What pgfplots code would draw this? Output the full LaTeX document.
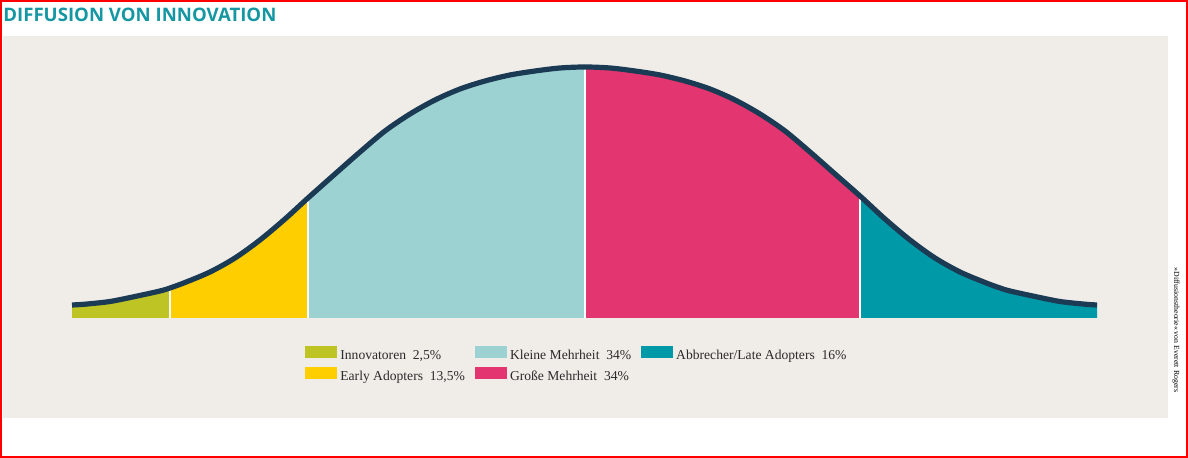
\documentclass[border=0pt]{standalone}
\usepackage{fontspec}
\setmainfont{Liberation Serif}
\newfontfamily\titlefont{Open Sans}
\usepackage{pgfplots}
\usepackage{pgfplotstable}
\pgfplotsset{compat=1.18}
\definecolor{cInno}{HTML}{BDC423}
\definecolor{cEarly}{HTML}{FFCE00}
\definecolor{cKlein}{HTML}{9CD2D2}
\definecolor{cGross}{HTML}{E3356F}
\definecolor{cLate}{HTML}{0099A8}
\definecolor{cCurve}{HTML}{1B3A54}
\definecolor{cPanel}{HTML}{F0EDE8}
\definecolor{cTitle}{HTML}{1496A3}
\definecolor{cText}{HTML}{2B2B2B}

% bell curve: x position, height above the baseline
\pgfplotstableread{
x h
72 13
85 13.8
110 16.5
135 21.5
160 27
170 30
185 35.5
210 46
235 60
260 78
285 99
308 120
335 144
360 166
385 187
410 204
435 218
460 229
485 237
510 243
535 247
560 250
585 251
610 250
635 247
660 243
685 237
710 229
735 218
760 204
785 187
810 166
835 144
860 122
885 99
910 78
935 60
960 46
985 35.5
1000 30
1010 27
1035 21.5
1060 16.5
1085 13.8
1097 13
}\curve

\begin{document}
\begin{tikzpicture}
\begin{scope}[x=0.5pt,y=-0.5pt,shift={(-36pt,159pt)}]
  \useasboundingbox (0,0) rectangle (1188,458);
  \fill[cPanel] (3,36) rectangle (1168,418);
  \draw[red,line width=1pt] (1,1) rectangle (1187,457);
  \node[anchor=base west,inner sep=0pt,text=cTitle,font=\titlefont\bfseries\fontsize{9.3pt}{10pt}\selectfont] at (3,21.5) {DIFFUSION VON INNOVATION};
  \node[rotate=-90,inner sep=0pt,font=\fontsize{3.9pt}{4pt}\selectfont,text=black] at (1176,330) {»Diffusionstheorie« von Everett Rogers};
\end{scope}
\begin{axis}[
  at={(0,0)}, anchor=south west,
  scale only axis, width=512.5pt, height=130pt,
  xmin=72, xmax=1097, ymin=0, ymax=260,
  hide axis, clip=false,
  legend columns=3,
  legend cell align=left,
  legend image code/.code={\fill[#1, draw=none] (0pt,-1pt) rectangle (16pt,5pt);},
  legend style={at={(axis description cs:0.2273,-0.108)}, anchor=north west,
    draw=none, fill=none, inner sep=0pt, text=cText,
    font=\fontsize{6.8pt}{8pt}\selectfont,
    row sep=2pt,
    /tikz/every odd column/.append style={column sep=1.5pt},
    /tikz/every even column/.append style={column sep=5pt},
    nodes={inner sep=0pt, text depth=1.5pt, text height=5pt},
  },
]
\addplot[fill=cInno, draw=none, smooth, forget plot, restrict x to domain=72:170] table[x=x,y=h] {\curve} \closedcycle;
\addplot[fill=cEarly, draw=none, smooth, forget plot, restrict x to domain=170:308] table[x=x,y=h] {\curve} \closedcycle;
\addplot[fill=cKlein, draw=none, smooth, forget plot, restrict x to domain=308:585] table[x=x,y=h] {\curve} \closedcycle;
\addplot[fill=cGross, draw=none, smooth, forget plot, restrict x to domain=585:860] table[x=x,y=h] {\curve} \closedcycle;
\addplot[fill=cLate, draw=none, smooth, forget plot, restrict x to domain=860:1097] table[x=x,y=h] {\curve} \closedcycle;
\addplot[white, line width=0.6pt, forget plot] coordinates {(170,0) (170,30)};
\addplot[white, line width=0.6pt, forget plot] coordinates {(308,0) (308,120)};
\addplot[white, line width=0.6pt, forget plot] coordinates {(585,0) (585,251)};
\addplot[white, line width=0.6pt, forget plot] coordinates {(860,0) (860,122)};
\addplot[draw=cCurve, line width=2.6pt, smooth, forget plot] table[x=x,y=h] {\curve};
\addlegendimage{fill=cInno}
\addlegendentry{Innovatoren~~2,5\%}
\addlegendimage{fill=cKlein}
\addlegendentry{Kleine Mehrheit~~34\%}
\addlegendimage{fill=cLate}
\addlegendentry{Abbrecher/Late Adopters~~16\%}
\addlegendimage{fill=cEarly}
\addlegendentry{Early Adopters~~13,5\%}
\addlegendimage{fill=cGross}
\addlegendentry{Große Mehrheit~~34\%}
\end{axis}
\end{tikzpicture}
\end{document}
